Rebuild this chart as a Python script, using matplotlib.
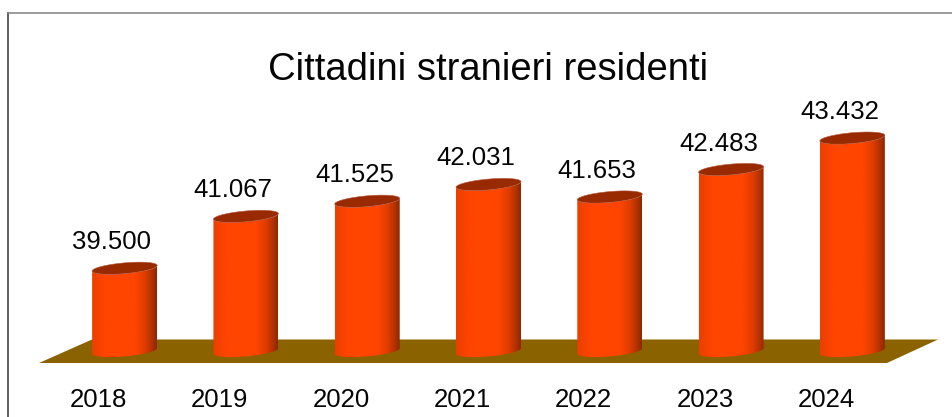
import numpy as np
import matplotlib
matplotlib.use('Agg')
import matplotlib.pyplot as plt
from matplotlib.colors import LinearSegmentedColormap
from matplotlib.lines import Line2D
from matplotlib.patches import PathPatch, Polygon
from matplotlib.path import Path
from matplotlib.transforms import ScaledTranslation

plt.rcParams['font.family'] = ['Liberation Sans', 'DejaVu Sans']

# data
anni = ['2018', '2019', '2020', '2021', '2022', '2023', '2024']
residenti = [39500, 41067, 41525, 42031, 41653, 42483, 43432]
etichette = ['39.500', '41.067', '41.525', '42.031', '41.653', '42.483', '43.432']

W, H = 952, 417
fig = plt.figure(figsize=(W / 100, H / 100), dpi=100)

# axes placed in pixels
left, right, bottom, top = 64, 913, 351, 20
ax = fig.add_axes([left / W, 1 - bottom / H, (right - left) / W, (bottom - top) / H])
ymin, ymax = 37000, 47000
ax.set_xlim(-0.5, 6.5)
ax.set_ylim(ymin, ymax)
for s in ax.spines.values():
    s.set_visible(False)
ax.set_yticks([])
ax.set_xticks(range(len(anni)))
ax.set_xticklabels(anni, fontsize=18.5, color='#050505')
ax.tick_params(axis='x', length=0, pad=26.5)
ax.patch.set_alpha(0)
# year labels sit left of the bars, on the front edge of the floor
offset = ScaledTranslation(-26 / 100, 0, fig.dpi_scale_trans)
for lab in ax.get_xticklabels():
    lab.set_transform(lab.get_transform() + offset)


def px(x, y):
    return (x / W, 1 - y / H)


# frame
fig.add_artist(Line2D([8 / W, 8 / W], [0, 1 - 13 / H], color='#333333', lw=1.1))
fig.add_artist(Line2D([8 / W, 1], [1 - 13 / H, 1 - 13 / H], color='#808080', lw=1.1))

# floor
floor = Polygon([px(39, 363), px(92, 339.5), px(938, 339.5), px(887, 363)],
                closed=True, transform=fig.transFigure, fc='#8b6200', ec='none', zorder=0)
fig.add_artist(floor)

fig.text(488 / W, 1 - 70 / H, 'Cittadini stranieri residenti', fontsize=27.5,
         ha='center', va='center', color='#050505')

sx = (right - left) / 7
sy = (bottom - top) / (ymax - ymin)
a, b, tilt = 32.5, 5.4, 2.8  # cylinder ellipse, pixels
cmap = LinearSegmentedColormap.from_list('cil', [
    (0, '#ea3f00'), (0.2, '#ff4500'), (0.66, '#ff4500'),
    (0.82, '#dd3c00'), (0.94, '#aa3000'), (1, '#8a2800')])
grad = np.linspace(0, 1, 256).reshape(1, -1)
t_front = np.linspace(np.pi, 2 * np.pi, 60)
t_all = np.linspace(0, 2 * np.pi, 120)


def ellisse(xc, yc, t):
    ex = xc + a * np.cos(t) / sx
    ey = yc + (tilt * np.cos(t) + b * np.sin(t)) / sy
    return np.column_stack([ex, ey])


for i, v in enumerate(residenti):
    base = ymin
    low = ellisse(i, base, t_front)
    up = ellisse(i, v, t_front)[::-1]
    verts = np.vstack([low, up, low[:1]])
    body = PathPatch(Path(verts), transform=ax.transData, fc='none', ec='none')
    ax.add_patch(body)
    body.set_clip_on(False)
    im = ax.imshow(grad, cmap=cmap, aspect='auto', zorder=2,
                   extent=(i - a / sx, i + a / sx, base - 12 / sy, v + 12 / sy))
    im.set_clip_box(fig.bbox)
    im.set_clip_path(body)
    cap = Polygon(ellisse(i, v, t_all), closed=True, fc='#992a00', ec='#b5573a',
                  lw=0.4, zorder=3, clip_on=False)
    ax.add_patch(cap)
    ax.text(i - 0.105, v + 14 / sy, etichette[i], fontsize=18.5, ha='center', va='bottom',
            color='#050505')

ax.set_xlim(-0.5, 6.5)
ax.set_ylim(ymin, ymax)
fig.savefig('out.png', dpi=100, facecolor='white')
